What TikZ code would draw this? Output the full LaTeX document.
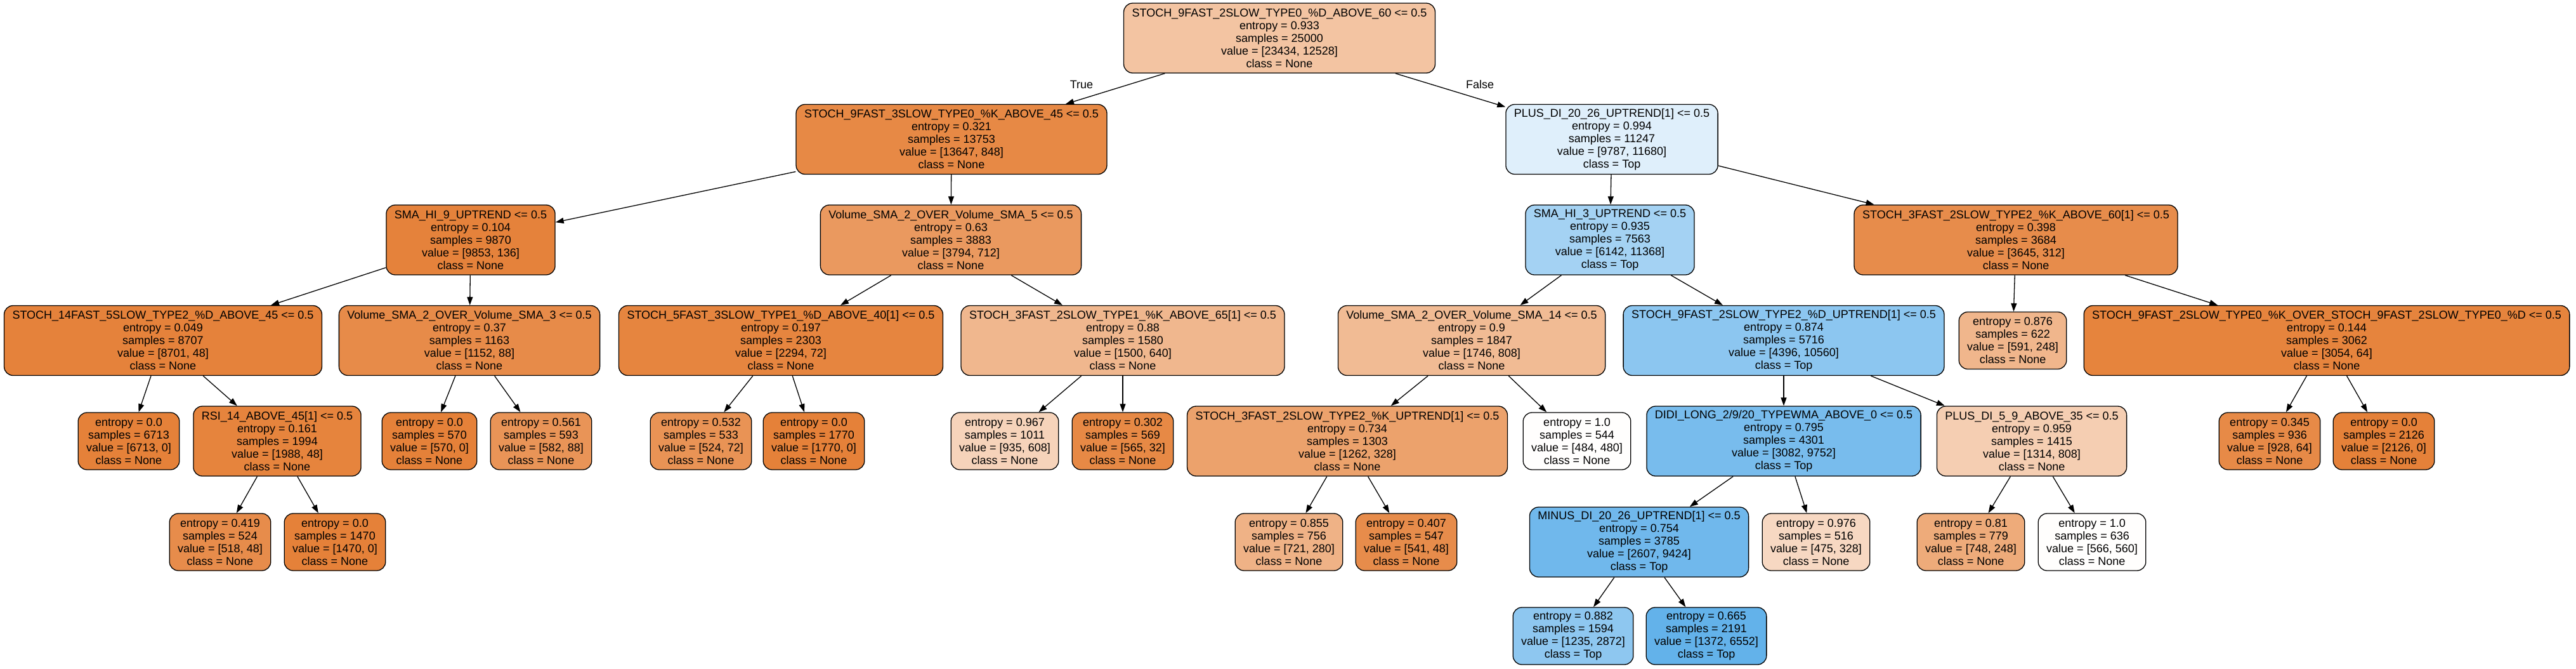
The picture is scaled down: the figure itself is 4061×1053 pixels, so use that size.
\documentclass[tikz,border=0pt]{standalone}
\usepackage{fontspec}
\setmainfont{Liberation Sans}
\usetikzlibrary{arrows.meta}
\definecolor{clsnone}{RGB}{229,129,57}
\definecolor{clstop}{RGB}{57,157,229}
\tikzset{
	split/.style={draw=black, line width=1.3pt, rounded corners=14pt, align=center, inner xsep=13pt, inner ysep=4pt, minimum height=110pt, font=\fontsize{18}{20}\selectfont},
	leafbox/.style={split, minimum height=90pt},
	branch/.style={line width=1.3pt, -{Triangle[length=13pt,width=9pt]}},
	edgelabel/.style={font=\fontsize{18}{20}\selectfont}
}
\begin{document}
\begin{tikzpicture}[x=1pt,y=-1pt]
	\useasboundingbox (0,0) rectangle (4061,1053);
	\node[split, fill=clsnone!47!white] (root) at (2017,60) {STOCH\_9FAST\_2SLOW\_TYPE0\_\%D\_ABOVE\_60 <= 0.5\\entropy = 0.933\\samples = 25000\\value = [23434, 12528]\\class = None};
	\node[split, fill=clsnone!94!white] (stochk45) at (1500,219.5) {STOCH\_9FAST\_3SLOW\_TYPE0\_\%K\_ABOVE\_45 <= 0.5\\entropy = 0.321\\samples = 13753\\value = [13647, 848]\\class = None};
	\node[split, fill=clstop!16!white] (plusdi) at (2541,219.5) {PLUS\_DI\_20\_26\_UPTREND[1] <= 0.5\\entropy = 0.994\\samples = 11247\\value = [9787, 11680]\\class = Top};
	\node[split, fill=clsnone!99!white] (smahi9) at (742,378) {SMA\_HI\_9\_UPTREND <= 0.5\\entropy = 0.104\\samples = 9870\\value = [9853, 136]\\class = None};
	\node[split, fill=clsnone!81!white] (volsma5) at (1499,378) {Volume\_SMA\_2\_OVER\_Volume\_SMA\_5 <= 0.5\\entropy = 0.63\\samples = 3883\\value = [3794, 712]\\class = None};
	\node[split, fill=clstop!46!white] (smahi3) at (2538,378) {SMA\_HI\_3\_UPTREND <= 0.5\\entropy = 0.935\\samples = 7563\\value = [6142, 11368]\\class = Top};
	\node[split, fill=clsnone!91!white] (stochk60) at (3178,378) {STOCH\_3FAST\_2SLOW\_TYPE2\_\%K\_ABOVE\_60[1] <= 0.5\\entropy = 0.398\\samples = 3684\\value = [3645, 312]\\class = None};
	\node[split, fill=clsnone!99!white] (stochd45) at (257,536.5) {STOCH\_14FAST\_5SLOW\_TYPE2\_\%D\_ABOVE\_45 <= 0.5\\entropy = 0.049\\samples = 8707\\value = [8701, 48]\\class = None};
	\node[split, fill=clsnone!92!white] (volsma3) at (740,536.5) {Volume\_SMA\_2\_OVER\_Volume\_SMA\_3 <= 0.5\\entropy = 0.37\\samples = 1163\\value = [1152, 88]\\class = None};
	\node[split, fill=clsnone!97!white] (stochd40) at (1231,536.5) {STOCH\_5FAST\_3SLOW\_TYPE1\_\%D\_ABOVE\_40[1] <= 0.5\\entropy = 0.197\\samples = 2303\\value = [2294, 72]\\class = None};
	\node[split, fill=clsnone!57!white] (stochk65) at (1770,536.5) {STOCH\_3FAST\_2SLOW\_TYPE1\_\%K\_ABOVE\_65[1] <= 0.5\\entropy = 0.88\\samples = 1580\\value = [1500, 640]\\class = None};
	\node[split, fill=clsnone!54!white] (volsma14) at (2320,536.5) {Volume\_SMA\_2\_OVER\_Volume\_SMA\_14 <= 0.5\\entropy = 0.9\\samples = 1847\\value = [1746, 808]\\class = None};
	\node[split, fill=clstop!58!white] (stochdup) at (2812,536.5) {STOCH\_9FAST\_2SLOW\_TYPE2\_\%D\_UPTREND[1] <= 0.5\\entropy = 0.874\\samples = 5716\\value = [4396, 10560]\\class = Top};
	\node[leafbox, fill=clsnone!58!white] (leafa) at (3173,536.5) {entropy = 0.876\\samples = 622\\value = [591, 248]\\class = None};
	\node[split, fill=clsnone!98!white] (stochkd) at (3668,536.5) {STOCH\_9FAST\_2SLOW\_TYPE0\_\%K\_OVER\_STOCH\_9FAST\_2SLOW\_TYPE0\_\%D <= 0.5\\entropy = 0.144\\samples = 3062\\value = [3054, 64]\\class = None};
	\node[leafbox, fill=clsnone] (leafb) at (203,695) {entropy = 0.0\\samples = 6713\\value = [6713, 0]\\class = None};
	\node[split, fill=clsnone!98!white] (rsi) at (437,695) {RSI\_14\_ABOVE\_45[1] <= 0.5\\entropy = 0.161\\samples = 1994\\value = [1988, 48]\\class = None};
	\node[leafbox, fill=clsnone] (leafc) at (677,695) {entropy = 0.0\\samples = 570\\value = [570, 0]\\class = None};
	\node[leafbox, fill=clsnone!85!white] (leafd) at (853,695) {entropy = 0.561\\samples = 593\\value = [582, 88]\\class = None};
	\node[leafbox, fill=clsnone!86!white] (leafe) at (1105,695) {entropy = 0.532\\samples = 533\\value = [524, 72]\\class = None};
	\node[leafbox, fill=clsnone] (leaff) at (1283,695) {entropy = 0.0\\samples = 1770\\value = [1770, 0]\\class = None};
	\node[leafbox, fill=clsnone!35!white] (leafg) at (1584,695) {entropy = 0.967\\samples = 1011\\value = [935, 608]\\class = None};
	\node[leafbox, fill=clsnone!94!white] (leafh) at (1770,695) {entropy = 0.302\\samples = 569\\value = [565, 32]\\class = None};
	\node[split, fill=clsnone!74!white] (stochkup) at (2124,695) {STOCH\_3FAST\_2SLOW\_TYPE2\_\%K\_UPTREND[1] <= 0.5\\entropy = 0.734\\samples = 1303\\value = [1262, 328]\\class = None};
	\node[leafbox, fill=clsnone!1!white] (leafi) at (2486,695) {entropy = 1.0\\samples = 544\\value = [484, 480]\\class = None};
	\node[split, fill=clstop!68!white] (didi) at (2812,695) {DIDI\_LONG\_2/9/20\_TYPEWMA\_ABOVE\_0 <= 0.5\\entropy = 0.795\\samples = 4301\\value = [3082, 9752]\\class = Top};
	\node[split, fill=clsnone!39!white] (plusdi59) at (3203,695) {PLUS\_DI\_5\_9\_ABOVE\_35 <= 0.5\\entropy = 0.959\\samples = 1415\\value = [1314, 808]\\class = None};
	\node[leafbox, fill=clsnone!93!white] (leafj) at (3578,695) {entropy = 0.345\\samples = 936\\value = [928, 64]\\class = None};
	\node[leafbox, fill=clsnone] (leafk) at (3758,695) {entropy = 0.0\\samples = 2126\\value = [2126, 0]\\class = None};
	\node[leafbox, fill=clsnone!91!white] (leafl) at (347,854) {entropy = 0.419\\samples = 524\\value = [518, 48]\\class = None};
	\node[leafbox, fill=clsnone] (leafm) at (528,854) {entropy = 0.0\\samples = 1470\\value = [1470, 0]\\class = None};
	\node[leafbox, fill=clsnone!61!white] (leafn) at (2032,854) {entropy = 0.855\\samples = 756\\value = [721, 280]\\class = None};
	\node[leafbox, fill=clsnone!91!white] (leafo) at (2217,854) {entropy = 0.407\\samples = 547\\value = [541, 48]\\class = None};
	\node[split, fill=clstop!72!white] (minusdi) at (2584,854) {MINUS\_DI\_20\_26\_UPTREND[1] <= 0.5\\entropy = 0.754\\samples = 3785\\value = [2607, 9424]\\class = Top};
	\node[leafbox, fill=clsnone!31!white] (leafp) at (2863,854) {entropy = 0.976\\samples = 516\\value = [475, 328]\\class = None};
	\node[leafbox, fill=clsnone!67!white] (leafq) at (3107,854) {entropy = 0.81\\samples = 779\\value = [748, 248]\\class = None};
	\node[leafbox, fill=clsnone!1!white] (leafr) at (3298,854) {entropy = 1.0\\samples = 636\\value = [566, 560]\\class = None};
	\node[leafbox, fill=clstop!57!white] (leafs) at (2480,1002) {entropy = 0.882\\samples = 1594\\value = [1235, 2872]\\class = Top};
	\node[leafbox, fill=clstop!79!white] (leaft) at (2690,1002) {entropy = 0.665\\samples = 2191\\value = [1372, 6552]\\class = Top};
	\node[edgelabel] (ltrue) at (1705,133) {True};
	\node[edgelabel] (lfalse) at (2333,133) {False};
	\draw[branch] (root) -- (stochk45);
	\draw[branch] (root) -- (plusdi);
	\draw[branch] (stochk45) -- (smahi9);
	\draw[branch] (stochk45) -- (volsma5);
	\draw[branch] (plusdi) -- (smahi3);
	\draw[branch] (plusdi) -- (stochk60);
	\draw[branch] (smahi9) -- (stochd45);
	\draw[branch] (smahi9) -- (volsma3);
	\draw[branch] (volsma5) -- (stochd40);
	\draw[branch] (volsma5) -- (stochk65);
	\draw[branch] (smahi3) -- (volsma14);
	\draw[branch] (smahi3) -- (stochdup);
	\draw[branch] (stochk60) -- (leafa);
	\draw[branch] (stochk60) -- (stochkd);
	\draw[branch] (stochd45) -- (leafb);
	\draw[branch] (stochd45) -- (rsi);
	\draw[branch] (volsma3) -- (leafc);
	\draw[branch] (volsma3) -- (leafd);
	\draw[branch] (stochd40) -- (leafe);
	\draw[branch] (stochd40) -- (leaff);
	\draw[branch] (stochk65) -- (leafg);
	\draw[branch] (stochk65) -- (leafh);
	\draw[branch] (volsma14) -- (stochkup);
	\draw[branch] (volsma14) -- (leafi);
	\draw[branch] (stochdup) -- (didi);
	\draw[branch] (stochdup) -- (plusdi59);
	\draw[branch] (stochkd) -- (leafj);
	\draw[branch] (stochkd) -- (leafk);
	\draw[branch] (rsi) -- (leafl);
	\draw[branch] (rsi) -- (leafm);
	\draw[branch] (stochkup) -- (leafn);
	\draw[branch] (stochkup) -- (leafo);
	\draw[branch] (didi) -- (minusdi);
	\draw[branch] (didi) -- (leafp);
	\draw[branch] (plusdi59) -- (leafq);
	\draw[branch] (plusdi59) -- (leafr);
	\draw[branch] (minusdi) -- (leafs);
	\draw[branch] (minusdi) -- (leaft);
\end{tikzpicture}
\end{document}
